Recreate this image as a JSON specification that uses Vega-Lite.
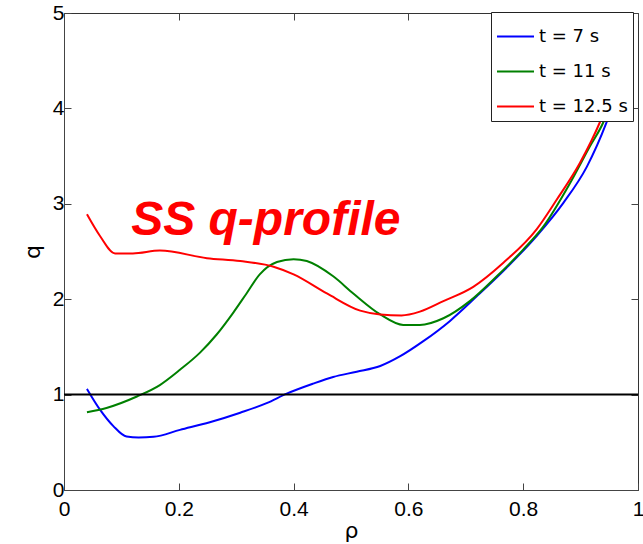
{
  "$schema": "https://vega.github.io/schema/vega-lite/v6.json",
  "width": 574,
  "height": 477,
  "autosize": {"type": "none"},
  "padding": {"left": 64, "top": 13, "right": 5, "bottom": 54},
  "background": "white",
  "config": {
    "view": {"stroke": "#333333", "strokeWidth": 1},
    "font": "Liberation Sans",
    "axis": {
      "grid": false,
      "domainColor": "#444444",
      "tickColor": "#444444",
      "tickSize": -7,
      "labelFlush": false,
      "labelFont": "Liberation Sans",
      "labelFontSize": 21,
      "labelColor": "black",
      "titleFont": "DejaVu Sans",
      "titleFontSize": 22,
      "titleFontWeight": "normal",
      "titleColor": "black"
    }
  },
  "datasets": {
    "curves": [
      {"series": "t = 7 s", "rho": 0.04, "q": 1.06},
      {"series": "t = 7 s", "rho": 0.063, "q": 0.84},
      {"series": "t = 7 s", "rho": 0.086, "q": 0.67},
      {"series": "t = 7 s", "rho": 0.109, "q": 0.56},
      {"series": "t = 7 s", "rho": 0.13, "q": 0.55},
      {"series": "t = 7 s", "rho": 0.156, "q": 0.557},
      {"series": "t = 7 s", "rho": 0.202, "q": 0.63},
      {"series": "t = 7 s", "rho": 0.254, "q": 0.71},
      {"series": "t = 7 s", "rho": 0.307, "q": 0.81},
      {"series": "t = 7 s", "rho": 0.353, "q": 0.91},
      {"series": "t = 7 s", "rho": 0.388, "q": 1.01},
      {"series": "t = 7 s", "rho": 0.434, "q": 1.115},
      {"series": "t = 7 s", "rho": 0.469, "q": 1.185},
      {"series": "t = 7 s", "rho": 0.51, "q": 1.24},
      {"series": "t = 7 s", "rho": 0.551, "q": 1.3},
      {"series": "t = 7 s", "rho": 0.585, "q": 1.4},
      {"series": "t = 7 s", "rho": 0.626, "q": 1.56},
      {"series": "t = 7 s", "rho": 0.672, "q": 1.77},
      {"series": "t = 7 s", "rho": 0.719, "q": 2.03},
      {"series": "t = 7 s", "rho": 0.771, "q": 2.33},
      {"series": "t = 7 s", "rho": 0.823, "q": 2.66},
      {"series": "t = 7 s", "rho": 0.87, "q": 3.01},
      {"series": "t = 7 s", "rho": 0.911, "q": 3.39},
      {"series": "t = 7 s", "rho": 0.945, "q": 3.85},
      {"series": "t = 7 s", "rho": 0.96, "q": 4.1},
      {"series": "t = 11 s", "rho": 0.04, "q": 0.815},
      {"series": "t = 11 s", "rho": 0.074, "q": 0.86},
      {"series": "t = 11 s", "rho": 0.127, "q": 0.98},
      {"series": "t = 11 s", "rho": 0.167, "q": 1.1},
      {"series": "t = 11 s", "rho": 0.202, "q": 1.26},
      {"series": "t = 11 s", "rho": 0.237, "q": 1.44},
      {"series": "t = 11 s", "rho": 0.266, "q": 1.63},
      {"series": "t = 11 s", "rho": 0.295, "q": 1.86},
      {"series": "t = 11 s", "rho": 0.318, "q": 2.06},
      {"series": "t = 11 s", "rho": 0.341, "q": 2.26},
      {"series": "t = 11 s", "rho": 0.371, "q": 2.39},
      {"series": "t = 11 s", "rho": 0.4, "q": 2.42},
      {"series": "t = 11 s", "rho": 0.423, "q": 2.4},
      {"series": "t = 11 s", "rho": 0.469, "q": 2.24},
      {"series": "t = 11 s", "rho": 0.504, "q": 2.06},
      {"series": "t = 11 s", "rho": 0.551, "q": 1.84},
      {"series": "t = 11 s", "rho": 0.591, "q": 1.73},
      {"series": "t = 11 s", "rho": 0.62, "q": 1.73},
      {"series": "t = 11 s", "rho": 0.661, "q": 1.8},
      {"series": "t = 11 s", "rho": 0.707, "q": 1.98},
      {"series": "t = 11 s", "rho": 0.754, "q": 2.24},
      {"series": "t = 11 s", "rho": 0.8, "q": 2.52},
      {"series": "t = 11 s", "rho": 0.835, "q": 2.76},
      {"series": "t = 11 s", "rho": 0.882, "q": 3.22},
      {"series": "t = 11 s", "rho": 0.916, "q": 3.6},
      {"series": "t = 11 s", "rho": 0.94, "q": 3.86},
      {"series": "t = 11 s", "rho": 0.955, "q": 4.1},
      {"series": "t = 12.5 s", "rho": 0.04, "q": 2.89},
      {"series": "t = 12.5 s", "rho": 0.063, "q": 2.66},
      {"series": "t = 12.5 s", "rho": 0.089, "q": 2.48},
      {"series": "t = 12.5 s", "rho": 0.12, "q": 2.48},
      {"series": "t = 12.5 s", "rho": 0.167, "q": 2.51},
      {"series": "t = 12.5 s", "rho": 0.249, "q": 2.43},
      {"series": "t = 12.5 s", "rho": 0.307, "q": 2.4},
      {"series": "t = 12.5 s", "rho": 0.365, "q": 2.34},
      {"series": "t = 12.5 s", "rho": 0.4, "q": 2.26},
      {"series": "t = 12.5 s", "rho": 0.458, "q": 2.06},
      {"series": "t = 12.5 s", "rho": 0.516, "q": 1.88},
      {"series": "t = 12.5 s", "rho": 0.551, "q": 1.84},
      {"series": "t = 12.5 s", "rho": 0.588, "q": 1.83},
      {"series": "t = 12.5 s", "rho": 0.62, "q": 1.87},
      {"series": "t = 12.5 s", "rho": 0.661, "q": 1.98},
      {"series": "t = 12.5 s", "rho": 0.713, "q": 2.13},
      {"series": "t = 12.5 s", "rho": 0.765, "q": 2.38},
      {"series": "t = 12.5 s", "rho": 0.823, "q": 2.73},
      {"series": "t = 12.5 s", "rho": 0.858, "q": 3.04},
      {"series": "t = 12.5 s", "rho": 0.899, "q": 3.43},
      {"series": "t = 12.5 s", "rho": 0.934, "q": 3.86},
      {"series": "t = 12.5 s", "rho": 0.95, "q": 4.1}
    ],
    "note": [{"label": "SS q-profile", "rho": 0.117, "q": 2.675}],
    "refline": [{"q": 1}]
  },
  "layer": [
    {
      "data": {"name": "curves"},
      "mark": {"type": "line", "strokeWidth": 2, "interpolate": "monotone"},
      "encoding": {
        "x": {
          "field": "rho", "type": "quantitative",
          "scale": {"domain": [0, 1], "nice": false},
          "axis": {"orient": "bottom", "title": "ρ", "values": [0, 0.2, 0.4, 0.6, 0.8, 1], "format": "~g", "labelPadding": 15, "titlePadding": 1}
        },
        "y": {
          "field": "q", "type": "quantitative",
          "scale": {"domain": [0, 5], "nice": false},
          "axis": {"orient": "left", "title": "q", "values": [0, 1, 2, 3, 4, 5], "labelPadding": 7, "titlePadding": 8}
        },
        "color": {
          "field": "series", "type": "nominal",
          "scale": {"domain": ["t = 7 s", "t = 11 s", "t = 12.5 s"], "range": ["#0000ff", "#008000", "#ff0000"]},
          "legend": {
            "title": null,
            "orient": "none",
            "legendX": 427,
            "legendY": -1,
            "fillColor": "white",
            "strokeColor": "#222222",
            "padding": 5,
            "symbolType": "stroke",
            "symbolSize": 1369,
            "symbolStrokeWidth": 2,
            "labelFont": "DejaVu Sans",
            "labelFontSize": 18,
            "labelColor": "black",
            "labelOffset": 4,
            "rowPadding": 6
          }
        }
      }
    },
    {
      "data": {"name": "refline"},
      "mark": {"type": "rule", "color": "black", "strokeWidth": 2},
      "encoding": {
        "y": {"field": "q", "type": "quantitative", "axis": {"orient": "right", "labels": false, "title": null, "values": [0, 1, 2, 3, 4, 5], "domain": false}}
      }
    },
    {
      "data": {"name": "note"},
      "mark": {"type": "text", "color": "#ff0000", "font": "Liberation Sans", "fontSize": 48, "fontWeight": "bold", "fontStyle": "italic", "align": "left", "baseline": "alphabetic"},
      "encoding": {
        "x": {"field": "rho", "type": "quantitative", "axis": {"orient": "top", "labels": false, "title": null, "values": [0, 0.2, 0.4, 0.6, 0.8, 1], "domain": false}},
        "y": {"field": "q", "type": "quantitative", "axis": null},
        "text": {"field": "label"}
      }
    }
  ],
  "resolve": {"axis": {"x": "independent", "y": "independent"}}
}
